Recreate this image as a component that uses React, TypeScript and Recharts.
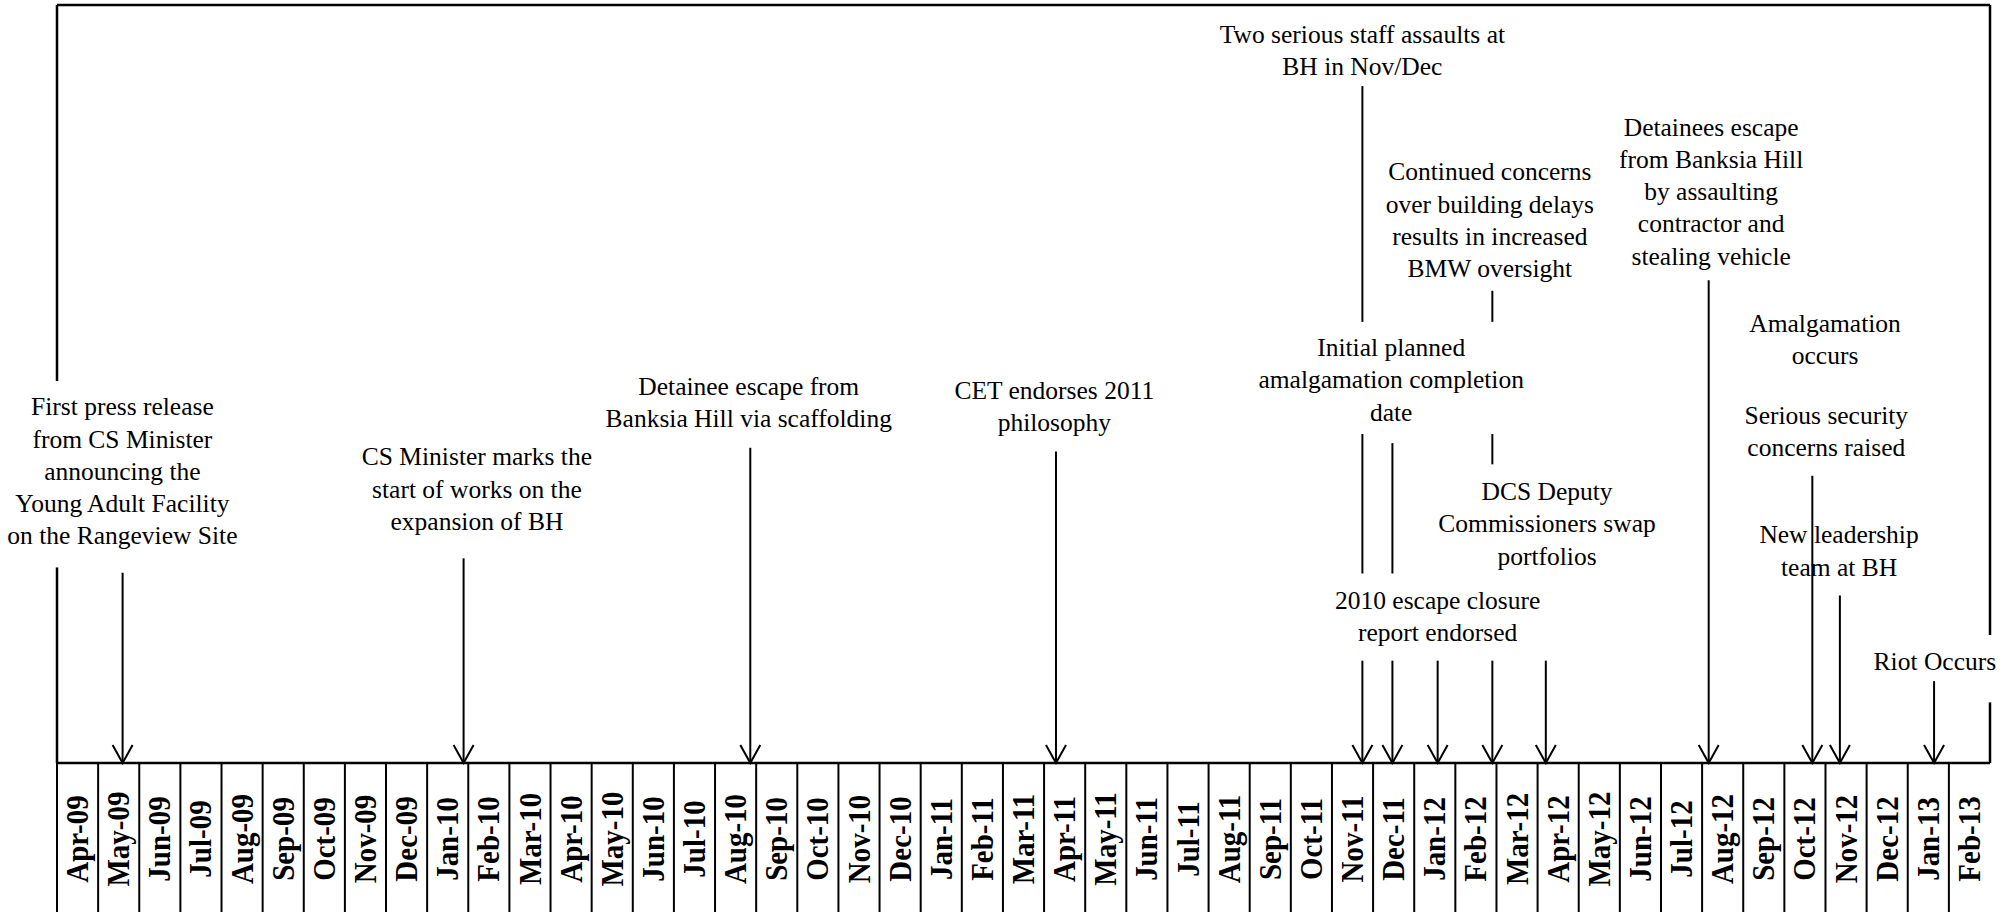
import React from 'react';
import { ComposedChart, XAxis, YAxis, Scatter, ReferenceLine } from 'recharts';

const months = [
  'Apr-09', 'May-09', 'Jun-09', 'Jul-09', 'Aug-09', 'Sep-09', 'Oct-09', 'Nov-09', 'Dec-09',
  'Jan-10', 'Feb-10', 'Mar-10', 'Apr-10', 'May-10', 'Jun-10', 'Jul-10', 'Aug-10', 'Sep-10', 'Oct-10', 'Nov-10', 'Dec-10',
  'Jan-11', 'Feb-11', 'Mar-11', 'Apr-11', 'May-11', 'Jun-11', 'Jul-11', 'Aug-11', 'Sep-11', 'Oct-11', 'Nov-11', 'Dec-11',
  'Jan-12', 'Feb-12', 'Mar-12', 'Apr-12', 'May-12', 'Jun-12', 'Jul-12', 'Aug-12', 'Sep-12', 'Oct-12', 'Nov-12', 'Dec-12',
  'Jan-13', 'Feb-13',
];

// text of each event box
const captions = [
  ['First press release', 'from CS Minister', 'announcing the', 'Young Adult Facility', 'on the Rangeview Site'],
  ['CS Minister marks the', 'start of works on the', 'expansion of BH'],
  ['Detainee escape from', 'Banksia Hill via scaffolding'],
  ['CET endorses 2011', 'philosophy'],
  ['Two serious staff assaults at', 'BH in Nov/Dec'],
  ['Continued concerns', 'over building delays', 'results in increased', 'BMW oversight'],
  ['Initial planned', 'amalgamation completion', 'date'],
  ['DCS Deputy', 'Commissioners swap', 'portfolios'],
  ['2010 escape closure', 'report endorsed'],
  ['Detainees escape', 'from Banksia Hill', 'by assaulting', 'contractor and', 'stealing vehicle'],
  ['Amalgamation', 'occurs'],
  ['Serious security', 'concerns raised'],
  ['New leadership', 'team at BH'],
  ['Riot Occurs'],
];
// where each box sits: months since start of Apr-09, and height (0 = timeline, 100 = top)
const captionX = [1.59, 10.21, 16.82, 24.25, 31.74, 34.84, 32.44, 36.23, 33.57, 40.22, 42.99, 43.02, 43.33, 45.66];
const captionY = [47.0, 40.4, 49.7, 49.2, 96.1, 78.0, 54.8, 35.8, 21.5, 83.9, 58.0, 45.9, 30.1, 13.4];

// connector lines: date (months since Apr-09), top / bottom height, arrow head or not
const stemX = [1.595, 9.886, 16.857, 24.29, 31.74, 31.74, 31.74, 32.47, 32.47, 33.57, 34.9, 34.9, 34.9, 36.2, 40.16, 42.68, 43.35, 45.64];
const stemTop = [25.1, 27.0, 41.6, 41.1, 89.3, 43.4, 13.5, 42.2, 13.5, 13.5, 62.3, 43.4, 13.5, 13.5, 63.7, 37.9, 22.1, 10.8];
const stemBottom = [0, 0, 0, 0, 58.2, 25.0, 0, 25.0, 0, 0, 58.2, 39.4, 0, 0, 0, 0, 0, 0];
const stemArrow = [true, true, true, true, false, false, true, false, true, true, false, false, true, true, true, true, true, true];

const W = 2011;
const H = 912;
const MARGIN = { top: 5, right: 21, bottom: 0, left: 57 };
const CELL = (W - MARGIN.left - MARGIN.right) / months.length;
const FONT = '"Liberation Serif", "Times New Roman", serif';

const boxes = captions.map((lines, i) => ({ x: captionX[i], y: captionY[i], lines }));

const MonthTick = (props: any) => {
  const { x, y, payload } = props;
  const label = months[Math.floor(payload.value)];
  const left = x - CELL / 2;
  const cy = y + 76;
  return (
    <g>
      <line x1={left} y1={y} x2={left} y2={H} stroke="#000" strokeWidth={2} />
      <g transform={`translate(${x}, ${cy}) rotate(-90) scale(1, 1.12)`}>
        <text
          x={0}
          y={0}
          textAnchor="middle"
          dominantBaseline="central"
          fontFamily={FONT}
          fontWeight="bold"
          fontSize={29}
          fill="#000"
        >
          {label}
        </text>
      </g>
    </g>
  );
};

const Caption = (props: any) => {
  const { cx, cy, payload } = props;
  return (
    <text textAnchor="middle" fontFamily={FONT} fontSize={25.5} fill="#000">
      {payload.lines.map((l: string, i: number) => (
        <tspan key={i} x={cx} y={cy + i * 32.3 + 8.5}>
          {l}
        </tspan>
      ))}
    </text>
  );
};

const stemShape = (arrow: boolean) => (p: any) => (
  <g>
    <line x1={p.x1} y1={p.y1} x2={p.x2} y2={p.y2} stroke="#000" strokeWidth={2} />
    {arrow && (
      <polyline
        points={`${p.x2 - 10},${p.y2 - 18} ${p.x2},${p.y2} ${p.x2 + 10},${p.y2 - 18}`}
        fill="none"
        stroke="#000"
        strokeWidth={2}
      />
    )}
  </g>
);

const frameShape = (p: any) => (
  <line x1={p.x1} y1={p.y1} x2={p.x2} y2={p.y2} stroke="#000" strokeWidth={2.5} />
);

export default function App() {
  const end = months.length;
  const frame = [
    [{ x: 0, y: 100 }, { x: end, y: 100 }],
    [{ x: 0, y: 100 }, { x: 0, y: 50.4 }],
    [{ x: 0, y: 25.8 }, { x: 0, y: 0 }],
    [{ x: end, y: 100 }, { x: end, y: 16.9 }],
    [{ x: end, y: 8.0 }, { x: end, y: 0 }],
  ];
  return (
    <div style={{ position: 'absolute', left: 0, top: 0, background: '#fff' }}>
      <ComposedChart width={W} height={H} margin={MARGIN}>
        <XAxis
          dataKey="x"
          type="number"
          domain={[0, end]}
          ticks={months.map((_, i) => i + 0.5)}
          interval={0}
          height={H - 763}
          tickLine={false}
          tickSize={0}
          tickMargin={0}
          axisLine={{ stroke: '#000', strokeWidth: 2.5 }}
          tick={<MonthTick />}
        />
        <YAxis dataKey="y" type="number" domain={[0, 100]} hide />
        {frame.map((seg, i) => (
          <ReferenceLine key={'f' + i} segment={seg} ifOverflow="visible" shape={frameShape} />
        ))}
        {stemX.map((x, i) => (
          <ReferenceLine
            key={'s' + i}
            segment={[{ x, y: stemTop[i] }, { x, y: stemBottom[i] }]}
            ifOverflow="visible"
            shape={stemShape(stemArrow[i])}
          />
        ))}
        <Scatter data={boxes} shape={<Caption />} isAnimationActive={false} />
      </ComposedChart>
    </div>
  );
}
